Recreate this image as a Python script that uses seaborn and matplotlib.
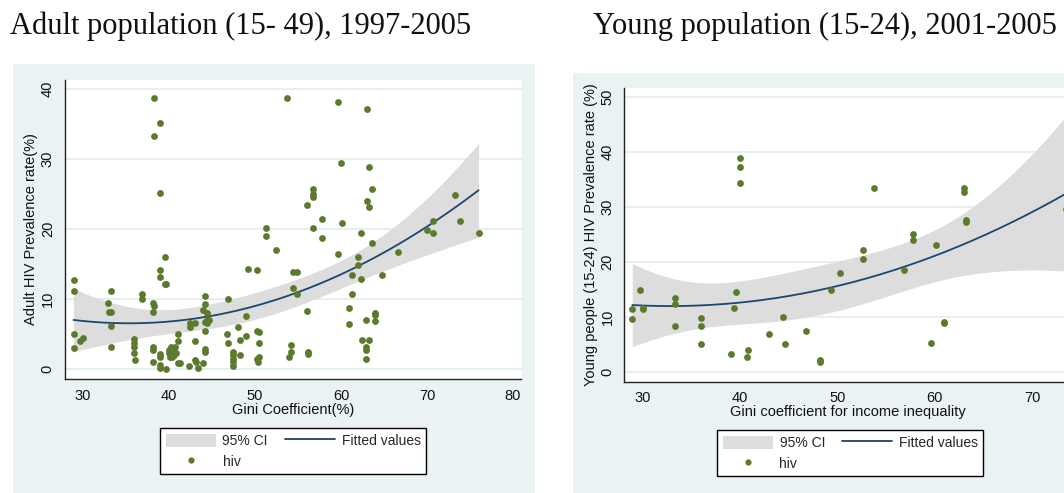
import numpy as np
import pandas as pd
import matplotlib
matplotlib.use("Agg")
import matplotlib.pyplot as plt
import seaborn as sns
from matplotlib.patches import Rectangle, Patch
from matplotlib.lines import Line2D

# ---------------- data ----------------
adult_gini = [28.9, 28.9, 28.9, 28.9, 29.7, 30.0, 32.9, 33.0, 33.3, 33.3, 33.3, 33.3,
              35.9, 35.9, 35.9, 35.9, 36.1, 36.9, 36.9, 38.2, 38.2, 38.1, 38.2, 38.1,
              38.1, 38.1, 38.1, 39.0, 39.0, 38.9, 38.9, 38.9, 38.9, 38.9, 38.9, 39.5,
              39.5, 39.6, 39.7, 40.0, 40.0, 40.1, 40.2, 40.4, 40.6, 40.7, 40.8, 40.3,
              41.1, 41.1, 41.0, 41.3, 42.3, 42.5, 42.5, 43.0, 43.0, 43.1, 43.0, 43.4,
              44.0, 44.0, 44.2, 44.2, 44.2, 44.2, 44.2, 44.2, 44.4, 44.4, 44.6, 44.4,
              46.9, 46.8, 46.9, 47.5, 47.5, 47.5, 47.5, 47.5, 48.0, 48.2, 48.2, 49.0,
              49.0, 49.2, 50.2, 50.2, 50.5, 50.5, 50.2, 50.5, 50.4, 51.3, 51.3, 52.5,
              53.7, 54.2, 54.0, 54.2, 54.4, 54.4, 54.9, 54.9, 56.0, 56.0, 56.2, 56.2,
              56.8, 56.8, 56.8, 56.8, 57.8, 57.8, 59.6, 59.6, 60.0, 60.1, 60.9, 60.9,
              61.3, 61.3, 62.0, 62.0, 62.3, 62.3, 62.5, 62.9, 62.9, 62.9, 62.9, 63.0,
              63.0, 63.2, 63.2, 63.2, 63.6, 63.6, 64.0, 64.0, 64.0, 64.8, 66.6, 70.0,
              70.7, 70.7, 73.2, 73.8, 76.0]
adult_hiv = [12.7, 11.2, 5.0, 3.0, 4.0, 4.4, 9.5, 8.1, 8.2, 11.2, 6.1, 3.2,
             4.3, 3.8, 3.1, 2.3, 1.3, 10.7, 10.0, 38.8, 33.3, 9.4, 9.0, 8.1,
             3.1, 2.8, 1.0, 35.2, 25.1, 14.1, 13.1, 2.2, 1.8, 0.6, 0.1, 16.0,
             12.1, 12.1, 0.0, 2.8, 2.3, 1.7, 3.1, 2.8, 2.0, 3.1, 2.3, 1.7,
             5.0, 4.0, 0.9, 0.9, 0.5, 6.6, 6.0, 6.6, 4.0, 1.0, 1.3, 0.1,
             0.9, 8.5, 10.5, 9.3, 6.8, 5.4, 2.9, 2.4, 8.0, 7.0, 7.0, 6.6,
             10.0, 5.0, 3.7, 2.4, 2.0, 1.5, 1.0, 0.5, 6.0, 4.1, 2.0, 7.6,
             4.8, 14.3, 14.1, 5.5, 5.3, 3.8, 1.5, 1.8, 1.0, 20.1, 19.0, 17.0,
             38.8, 3.5, 1.8, 2.4, 13.9, 11.6, 13.9, 10.7, 23.5, 8.3, 2.4, 2.1,
             25.8, 25.0, 24.6, 20.1, 21.5, 18.7, 38.1, 16.5, 29.5, 20.9, 8.8, 6.4,
             13.4, 10.7, 16.0, 14.9, 19.5, 12.9, 4.1, 1.5, 3.1, 2.8, 7.0, 37.2,
             24.0, 23.2, 28.9, 4.1, 18.0, 25.8, 8.0, 7.7, 6.9, 13.4, 16.7, 19.9,
             21.2, 19.5, 24.9, 21.2, 19.4]

young_gini = [28.9, 28.9, 29.7, 30.0, 30.0, 33.3, 33.3, 33.3, 36.0, 36.0, 36.0, 39.0,
              39.4, 39.6, 40.0, 40.0, 40.0, 40.7, 40.8, 43.0, 44.4, 44.6, 46.8, 48.2,
              48.2, 49.3, 50.3, 52.6, 52.6, 53.7, 56.8, 57.8, 57.8, 59.6, 60.1, 60.9,
              60.9, 63.0, 63.0, 63.2, 63.2, 73.5]
young_hiv = [11.5, 9.7, 14.9, 11.7, 11.4, 13.5, 12.4, 8.4, 9.8, 8.4, 5.1, 3.2,
             11.7, 14.6, 38.9, 37.2, 34.3, 2.7, 3.9, 6.9, 9.9, 5.1, 7.4, 2.1,
             1.8, 14.9, 17.9, 22.1, 20.5, 33.5, 18.5, 25.1, 23.9, 5.3, 23.0, 9.1,
             8.9, 33.5, 32.7, 27.7, 27.2, 29.7]

titles = ["Adult population (15- 49), 1997-2005", "Young population (15-24), 2001-2005"]
xlabels = ["Gini Coefficient(%)", "Gini coefficient for income inequality"]
ylabels = ["Adult HIV Prevalence rate(%)", "Young people (15-24) HIV Prevalence rate (%)"]
xticks = [[30, 40, 50, 60, 70, 80], [30, 40, 50, 60, 70]]
yticks = [[0, 10, 20, 30, 40], [0, 10, 20, 30, 40, 50]]
legend_labels = ["95% CI", "hiv", "Fitted values"]

# ---------------- styling ----------------
GREEN = "#5B7A2B"
NAVY = "#1A476F"
CI_GRAY = "#DDDDDD"
BG = "#EAF2F3"
GRID = "#E3ECEE"

sns.set_style("white")
plt.rcParams["font.family"] = ["Liberation Sans", "DejaVu Sans"]

W, H = 1064, 493
fig = plt.figure(figsize=(W / 100, H / 100), dpi=100)
fig.patch.set_facecolor("white")


def fx(px):
    return px / W


def fy(py):
    return 1 - py / H


def tcrit(df):
    z = 1.959964
    return z + (z**3 + z) / (4 * df) + (5 * z**5 + 16 * z**3 + 3 * z) / (96 * df**2)


def quad_fit_ci(x, y, grid):
    x = np.asarray(x, float)
    y = np.asarray(y, float)
    X = np.column_stack([np.ones_like(x), x, x**2])
    beta, *_ = np.linalg.lstsq(X, y, rcond=None)
    resid = y - X @ beta
    n, p = X.shape
    s2 = resid @ resid / (n - p)
    XtXi = np.linalg.inv(X.T @ X)
    G = np.column_stack([np.ones_like(grid), grid, grid**2])
    fit = G @ beta
    se = np.sqrt(s2 * np.einsum("ij,jk,ik->i", G, XtXi, G))
    t = tcrit(n - p)
    return fit, fit - t * se, fit + t * se


# panel geometry (pixels)
panels = [
    dict(bg=(13, 64, 535, 493), ax=(64.5, 80, 521.5, 379), xlim=(27.85, 80.99), ylim=(-1.4, 41.3),
         title_xy=(10, 34), leg=(160, 428)),
    dict(bg=(573, 73, 1110, 493), ax=(624.3, 88.3, 1071, 381.7), xlim=(28.08, 73.99), ylim=(-1.8, 51.6),
         title_xy=(593, 34), leg=(717, 430)),
]
datasets = [(adult_gini, adult_hiv), (young_gini, young_hiv)]

for i, (pan, (gx, hv)) in enumerate(zip(panels, datasets)):
    x0, y0, x1, y1 = pan["bg"]
    fig.patches.append(Rectangle((fx(x0), fy(y1)), fx(x1 - x0), (y1 - y0) / H,
                                 transform=fig.transFigure, facecolor=BG, edgecolor="none", zorder=-5))
    a0, b0, a1, b1 = pan["ax"]
    ax = fig.add_axes([fx(a0), fy(b1), fx(a1 - a0), (b1 - b0) / H])
    ax.set_zorder(2)
    ax.set_facecolor("white")

    df = pd.DataFrame({"gini": gx, "hiv": hv})
    grid = np.linspace(df.gini.min(), df.gini.max(), 200)
    fit, lo, hi = quad_fit_ci(df.gini.values, df.hiv.values, grid)

    ax.fill_between(grid, lo, hi, color=CI_GRAY, lw=0, zorder=1)
    sns.lineplot(x=grid, y=fit, ax=ax, color=NAVY, lw=1.3, estimator=None, legend=False, zorder=2)
    sns.scatterplot(data=df, x="gini", y="hiv", ax=ax, color=GREEN, s=24, linewidth=0,
                    legend=False, zorder=3)

    ax.set_xlim(*pan["xlim"])
    ax.set_ylim(*pan["ylim"])
    ax.set_xticks(xticks[i])
    ax.set_yticks(yticks[i])
    ax.yaxis.grid(True, color=GRID, lw=1.2)
    ax.xaxis.grid(False)
    ax.set_axisbelow(True)
    for s in ["top", "right"]:
        ax.spines[s].set_visible(False)
    for s in ["left", "bottom"]:
        ax.spines[s].set_color("#222222")
        ax.spines[s].set_linewidth(1.0)
    ax.tick_params(axis="both", which="major", direction="out", length=5, width=0.8,
                   color="#222222", labelsize=10.5, labelcolor="#111111", pad=2)
    ax.tick_params(axis="y", labelrotation=90)
    for lbl in ax.get_yticklabels():
        lbl.set_va("center")
    ax.set_xlabel(xlabels[i], fontsize=10.5, labelpad=0, color="#111111")
    ax.set_ylabel(ylabels[i], fontsize=10.5, labelpad=2, color="#111111")

    fig.text(fx(pan["title_xy"][0]), fy(pan["title_xy"][1]), titles[i],
             family=["Liberation Serif", "DejaVu Serif"], fontsize=22, color="#111111",
             ha="left", va="baseline")

    handles = [Patch(facecolor=CI_GRAY, edgecolor="none"),
               Line2D([], [], ls="", marker="o", ms=4.5, color=GREEN, mec="none"),
               Line2D([], [], color=NAVY, lw=1.3)]
    leg = fig.legend(handles, legend_labels, ncol=2, loc="upper left",
                     bbox_to_anchor=(fx(pan["leg"][0]), fy(pan["leg"][1])),
                     bbox_transform=fig.transFigure, borderaxespad=0, frameon=True,
                     fancybox=False, edgecolor="black", facecolor="white", framealpha=1,
                     handlelength=3.6, handleheight=1.1, handletextpad=0.5,
                     columnspacing=1.2, labelspacing=0.45, borderpad=0.4,
                     prop=dict(family=["Liberation Sans"], size=10))
    leg.get_frame().set_linewidth(1.0)

fig.savefig("out.png", dpi=100)
